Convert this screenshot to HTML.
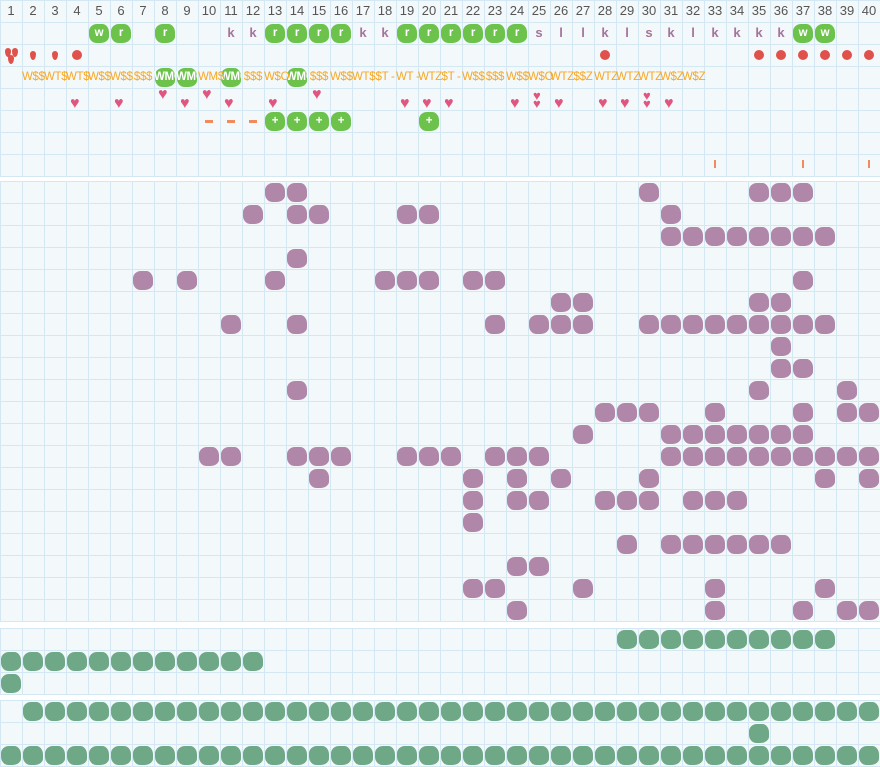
<!DOCTYPE html>
<html><head><meta charset="utf-8"><style>
*{margin:0;padding:0;box-sizing:border-box}
body{width:880px;height:767px;background:#fff;position:relative;overflow:hidden;font-family:"Liberation Sans",sans-serif}
.sec{position:absolute;left:0;width:881px;background-color:#f3f8fa;
background-image:linear-gradient(to right,#d3e8f2 1px,transparent 1px),linear-gradient(to bottom,#d3e8f2 1px,transparent 1px);
background-size:22px 22px}
.row{position:absolute;left:0;width:880px;height:22px;display:flex}
.row span{width:22px;flex:none;text-align:center;line-height:22px;white-space:nowrap;position:relative}
.hdr span{font-size:13px;color:#555}
.let span{font-size:13px;font-weight:bold;color:#a4749c}
.ora span{font-size:11.5px;color:#f7a823;letter-spacing:-0.3px;overflow:visible}
.b{position:absolute;border-radius:40% 34% 44% 36% / 38% 44% 34% 44%}
.bt{position:absolute;color:#fff;font-weight:bold;text-align:center;font-size:11.5px;letter-spacing:-0.3px;white-space:nowrap;overflow:hidden}
.heart{position:absolute;color:#e05680;font-size:16px;line-height:16px}
.dot{position:absolute;width:10px;height:10px;border-radius:50%;background:#e0514b}
.drop{position:absolute;width:6px;height:9px;background:#e0514b;border-radius:50% 50% 50% 50% / 35% 35% 65% 65%}
</style></head><body>
<div class="sec" style="top:0;height:177px"></div>
<div class="sec" style="top:181px;height:441px"></div>
<div class="sec" style="top:628px;height:67px"></div>
<div class="sec" style="top:700px;height:67px"></div>

<div class="row hdr" style="top:0"><span>1</span><span>2</span><span>3</span><span>4</span><span>5</span><span>6</span><span>7</span><span>8</span><span>9</span><span>10</span><span>11</span><span>12</span><span>13</span><span>14</span><span>15</span><span>16</span><span>17</span><span>18</span><span>19</span><span>20</span><span>21</span><span>22</span><span>23</span><span>24</span><span>25</span><span>26</span><span>27</span><span>28</span><span>29</span><span>30</span><span>31</span><span>32</span><span>33</span><span>34</span><span>35</span><span>36</span><span>37</span><span>38</span><span>39</span><span>40</span></div>

<div id="blobs"></div>

<div class="row let" style="top:22px"><span></span><span></span><span></span><span></span><span></span><span></span><span></span><span></span><span></span><span></span><span>k</span><span>k</span><span></span><span></span><span></span><span></span><span>k</span><span>k</span><span></span><span></span><span></span><span></span><span></span><span></span><span>s</span><span>l</span><span>l</span><span>k</span><span>l</span><span>s</span><span>k</span><span>l</span><span>k</span><span>k</span><span>k</span><span>k</span><span></span><span></span><span></span><span></span></div>

<div class="row ora" style="top:66px"><span></span><span>W$$</span><span>WT$</span><span>WT$</span><span>W$$</span><span>W$$</span><span>$$$</span><span></span><span></span><span>WM$</span><span></span><span>$$$</span><span>W$O</span><span></span><span>$$$</span><span>W$$</span><span>WT$</span><span>$T -</span><span>WT -</span><span>WTZ</span><span>$T -</span><span>W$$</span><span>$$$</span><span>W$$</span><span>W$O</span><span>WTZ</span><span>$$Z</span><span>WTZ</span><span>WTZ</span><span>WTZ</span><span>W$Z</span><span>W$Z</span></div>

<script>
var B=document.getElementById('blobs'),h='';
function cx(c){return 22*(c-1)+11}
function blob(c,y,col,t,w,hh){w=w||20;hh=hh||19;var x=cx(c);
h+='<div class="b" style="left:'+(x-w/2)+'px;top:'+(y-hh/2)+'px;width:'+w+'px;height:'+hh+'px;background:'+col+'"></div>';
if(t)h+='<div class="bt" style="left:'+(x-11)+'px;top:'+(y-7)+'px;width:22px;line-height:14px">'+t+'</div>';}
var G='#6cc24b',P='#b086a9',S='#6fa886';
[[5,'w'],[6,'r'],[8,'r'],[13,'r'],[14,'r'],[15,'r'],[16,'r'],[19,'r'],[20,'r'],[21,'r'],[22,'r'],[23,'r'],[24,'r'],[37,'w'],[38,'w']].forEach(function(a){blob(a[0],33,G,a[1])});
[8,9,11,14].forEach(function(c){blob(c,77,G,'WMO')});
[13,14,15,16,20].forEach(function(c){blob(c,121,G,'+')});
h+='<div class="drop" style="left:5px;top:48px"></div><div class="drop" style="left:12px;top:48px"></div><div class="drop" style="left:8px;top:55px"></div>';
[2,3].forEach(function(c){h+='<div class="drop" style="left:'+(cx(c)-3)+'px;top:51px"></div>'});
[4,28,35,36,37,38,39,40].forEach(function(c){h+='<div class="dot" style="left:'+(cx(c)-5)+'px;top:50px"></div>'});
[4,6,9,11,13,19,20,21,24,26,28,29,31].forEach(function(c){h+='<div class="heart" style="left:'+(cx(c)-7)+'px;top:96px">&#9829;</div>'});
[8,10,15].forEach(function(c){h+='<div class="heart" style="left:'+(cx(c)-7)+'px;top:87px">&#9829;</div>'});
[25,30].forEach(function(c){h+='<div class="heart" style="left:'+(cx(c)-6)+'px;top:89px;font-size:13px;line-height:13px">&#9829;</div><div class="heart" style="left:'+(cx(c)-6)+'px;top:97px;font-size:13px;line-height:13px">&#9829;</div>'});
[10,11,12].forEach(function(c){h+='<div style="position:absolute;left:'+(cx(c)-4)+'px;top:120px;width:8px;height:3px;background:#f08c5c"></div>'});
[33,37,40].forEach(function(c){h+='<div style="position:absolute;left:'+(cx(c)-1)+'px;top:160px;width:2px;height:8px;background:#f08c5c"></div>'});
var pr=[[13,14,30,35,36,37],[12,14,15,19,20,31],[31,32,33,34,35,36,37,38],[14],[7,9,13,18,19,20,22,23,37],[26,27,35,36],
[11,14,23,25,26,27,30,31,32,33,34,35,36,37,38],[36],[36,37],[14,35,39],
[28,29,30,33,37,39,40],[27,31,32,33,34,35,36,37],[10,11,14,15,16,19,20,21,23,24,25,31,32,33,34,35,36,37,38,39,40],
[15,22,24,26,30,38,40],[22,24,25,28,29,30,32,33,34],[22],[29,31,32,33,34,35,36],[24,25],[22,23,27,33,38],[24,33,37,39,40]];
pr.forEach(function(r,i){var y=181+22*i+11;r.forEach(function(c){blob(c,y,P)})});
for(var c=29;c<=38;c++)blob(c,639,S);
for(c=1;c<=12;c++)blob(c,661,S);
blob(1,683,S);
for(c=2;c<=40;c++)blob(c,711,S);
blob(35,733,S);
for(c=1;c<=40;c++)blob(c,755,S);
B.innerHTML=h;
</script>
</body></html>
